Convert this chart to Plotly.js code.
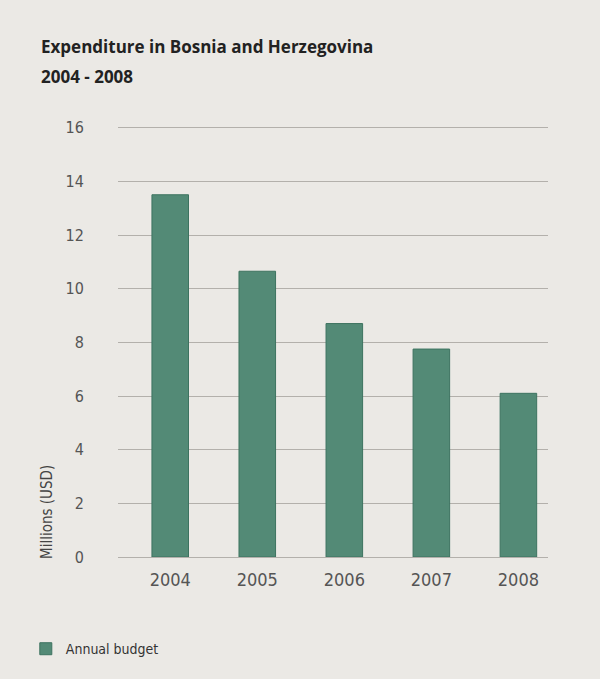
<!DOCTYPE html>
<html>
<head>
<meta charset="utf-8">
<script src="https://cdn.plot.ly/plotly-3.0.1.min.js"></script>
<style>html,body{margin:0;padding:0;background:#ebe9e5;}</style>
</head>
<body>
<div id="chart" style="width:600px;height:679px;"></div>
<script>
const years = ['2004', '2005', '2006', '2007', '2008'];
const annualBudget = [13.5, 10.65, 8.7, 7.75, 6.1];
const yTicks = [0, 2, 4, 6, 8, 10, 12, 14, 16];
const titleLine1 = 'Expenditure in Bosnia and Herzegovina';
const titleLine2 = '2004 - 2008';
const yTitle = 'Millions (USD)';
const seriesName = 'Annual budget';

const narrow = '"Liberation Sans Narrow", "DejaVu Sans Condensed", "Roboto Condensed", sans-serif';

// plot area in pixels
const L = 118, R = 548, T = 125, B = 557;
const px = x => (x - L) / (R - L);
const py = y => (B - y) / (B - T);

const trace = {
  type: 'bar',
  x: years,
  y: annualBudget,
  name: seriesName,
  width: 0.42,
  marker: {color: '#538a76', line: {color: '#3d7360', width: 1}},
  hoverinfo: 'skip'
};

const layout = {
  width: 600, height: 679,
  paper_bgcolor: '#ebe9e5',
  plot_bgcolor: 'rgba(0,0,0,0)',
  margin: {l: L, r: 600 - R, t: T, b: 679 - B, autoexpand: false},
  showlegend: true,
  legend: {
    xref: 'container', yref: 'container',
    x: 0.043, y: 0.044, xanchor: 'left', yanchor: 'middle',
    font: {family: narrow, size: 14, color: '#333'},
    bgcolor: 'rgba(0,0,0,0)'
  },
  xaxis: {
    type: 'category',
    range: [-0.6, 4.34],
    automargin: false,
    showgrid: false, zeroline: false, showline: false,
    ticks: 'outside', ticklen: 6, tickcolor: 'rgba(0,0,0,0)',
    tickfont: {family: narrow, size: 18, color: '#555'}
  },
  yaxis: {
    range: [0, 16.1],
    automargin: false,
    tickvals: yTicks,
    showgrid: true, gridcolor: '#b3b0ab', gridwidth: 1,
    zeroline: true, zerolinecolor: '#b3b0ab', zerolinewidth: 1,
    showline: false,
    ticks: 'outside', ticklen: 30, tickcolor: 'rgba(0,0,0,0)',
    tickfont: {family: narrow, size: 16, color: '#555'}
  },
  annotations: [
    {text: '<b>' + titleLine1 + '</b>', xref: 'paper', yref: 'paper', x: px(39), y: py(47), xanchor: 'left', yanchor: 'middle', showarrow: false, font: {family: '"Open Sans", sans-serif', size: 17, color: '#222'}},
    {text: '<b>' + titleLine2 + '</b>', xref: 'paper', yref: 'paper', x: px(39), y: py(76), xanchor: 'left', yanchor: 'middle', showarrow: false, font: {family: '"Open Sans", sans-serif', size: 17, color: '#222'}},
    {text: yTitle, xref: 'paper', yref: 'paper', x: px(47), y: py(512), xanchor: 'center', yanchor: 'middle', textangle: -90, showarrow: false, font: {family: narrow, size: 15, color: '#444'}}
  ]
};

Plotly.newPlot('chart', [trace], layout, {displayModeBar: false, staticPlot: true});
</script>
</body>
</html>
